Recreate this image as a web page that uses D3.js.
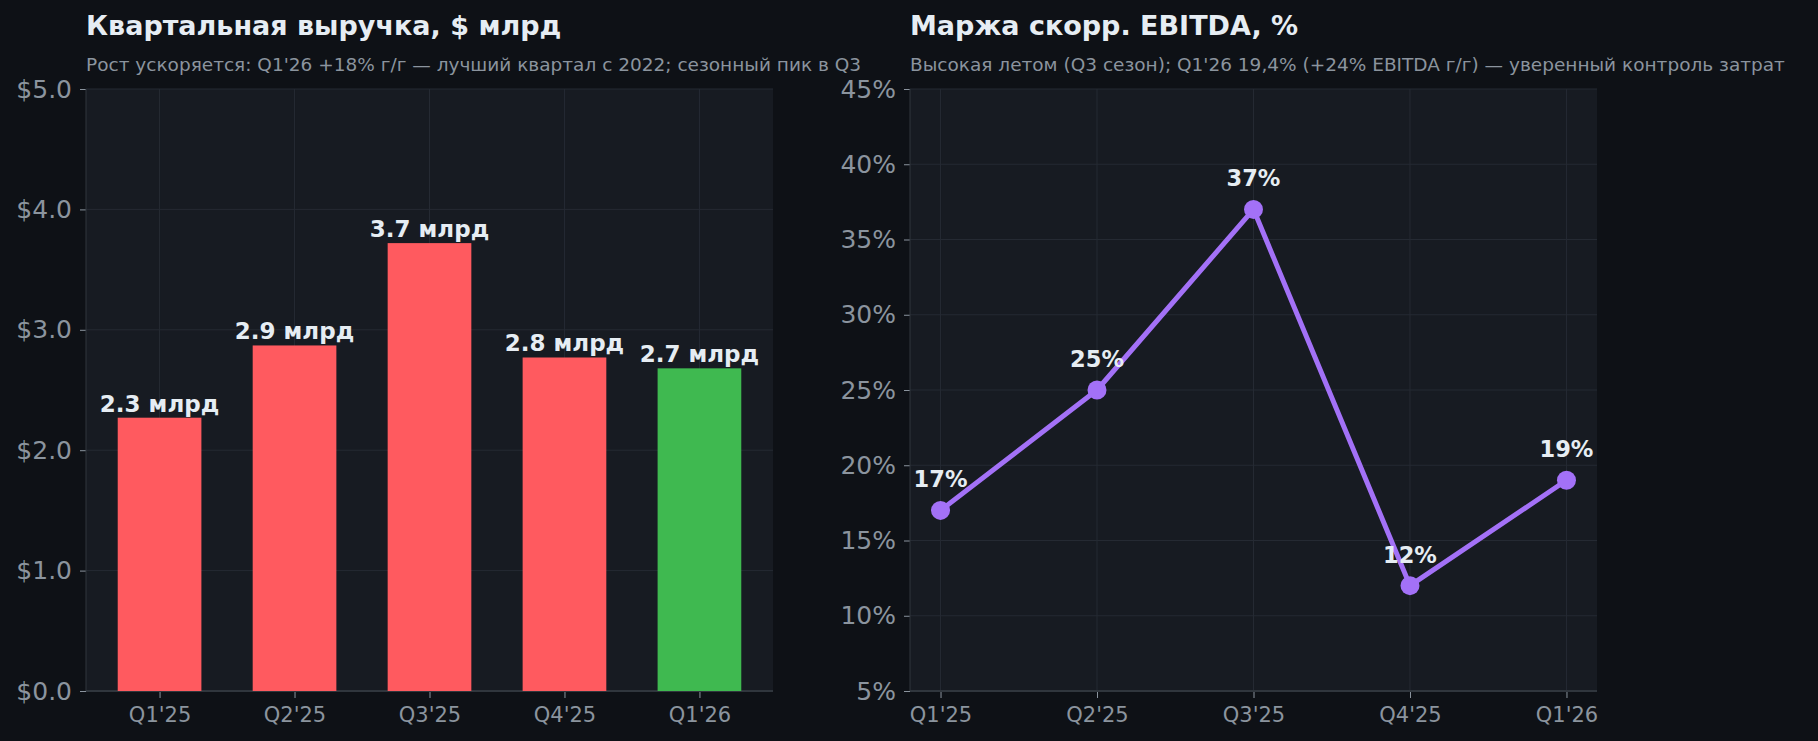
<!DOCTYPE html>
<html>
<head>
<meta charset="utf-8">
<title>Квартальная выручка и маржа EBITDA</title>
<style>
  html, body { margin: 0; padding: 0; background: #0e1116; }
  svg { display: block; font-family: "DejaVu Sans", sans-serif; }
  .domain { display: none; }
</style>
</head>
<body>
<div id="chart"></div>
<script src="https://cdn.jsdelivr.net/npm/d3@7"></script>
<script>
// data
const quarters = ["Q1'25", "Q2'25", "Q3'25", "Q4'25", "Q1'26"];
const revenue = [2.27, 2.87, 3.72, 2.77, 2.68];
const revenueLabels = ["2.3 млрд", "2.9 млрд", "3.7 млрд", "2.8 млрд", "2.7 млрд"];
const margin = [17, 25, 37, 12, 19];
const marginLabels = ["17%", "25%", "37%", "12%", "19%"];
const revenueTicks = [0, 1, 2, 3, 4, 5];
const marginTicks = [5, 10, 15, 20, 25, 30, 35, 40, 45];

const W = 1818, H = 741;
const C = {
  bg: "#0e1116", panel: "#171b22", grid: "#252a33", spine: "#30363d",
  tick: "#8b949e", text: "#e6edf3", red: "#ff5a5f", green: "#3fb950", purple: "#a371f7"
};

const svg = d3.select('#chart').append('svg')
  .attr('width', W).attr('height', H);
svg.append('rect').attr('width', W).attr('height', H).attr('fill', C.bg);

function panel(left, title, subtitle) {
  const top = 89, width = 687, height = 602;
  const g = svg.append('g').attr('transform', `translate(${left}, ${top})`);
  g.append('rect').attr('width', width).attr('height', height).attr('fill', C.panel);
  svg.append('text').attr('x', left).attr('y', 35)
    .attr('fill', C.text).attr('font-size', 27).attr('font-weight', 'bold').text(title);
  svg.append('text').attr('x', left).attr('y', 71)
    .attr('fill', C.tick).attr('font-size', 18.5).text(subtitle);
  return { g, width, height };
}

function axes(p, x, y, ticks, fmt) {
  const { g, width, height } = p;
  // grid
  g.append('g').selectAll('line').data(ticks).join('line')
    .attr('x1', 0).attr('x2', width).attr('y1', d => y(d)).attr('y2', d => y(d))
    .attr('stroke', C.grid).attr('stroke-width', 1);
  g.append('g').selectAll('line').data(quarters).join('line')
    .attr('x1', d => x(d)).attr('x2', d => x(d)).attr('y1', 0).attr('y2', height)
    .attr('stroke', C.grid).attr('stroke-width', 1);

  const ya = g.append('g')
    .call(d3.axisLeft(y).tickValues(ticks).tickFormat(fmt).tickSize(6).tickPadding(8));
  ya.selectAll('text').attr('fill', C.tick).attr('font-size', 25)
    .attr('font-family', '"DejaVu Sans", sans-serif');
  ya.selectAll('.tick line').attr('stroke', C.tick);

  const xa = g.append('g').attr('transform', `translate(0, ${height})`)
    .call(d3.axisBottom(x).tickSize(7).tickPadding(9));
  xa.selectAll('text').attr('fill', C.tick).attr('font-size', 21)
    .attr('font-family', '"DejaVu Sans", sans-serif');
  xa.selectAll('.tick line').attr('stroke', C.tick);

  g.append('line').attr('x1', 0).attr('x2', 0).attr('y1', 0).attr('y2', height)
    .attr('stroke', C.spine).attr('stroke-width', 1);
  g.append('line').attr('x1', 0).attr('x2', width).attr('y1', height).attr('y2', height)
    .attr('stroke', C.spine).attr('stroke-width', 2);
}

// ---- revenue bars
const p1 = panel(86, "Квартальная выручка, $ млрд",
  "Рост ускоряется: Q1'26 +18% г/г — лучший квартал с 2022; сезонный пик в Q3");
const x1 = d3.scalePoint().domain(quarters).range([0, p1.width]).padding(0.545);
const y1 = d3.scaleLinear().domain([0, 5]).range([p1.height, 0]);
axes(p1, x1, y1, revenueTicks, d => '$' + d3.format('.1f')(d));
const bw = x1.step() * 0.62;

p1.g.append('g').selectAll('rect').data(revenue).join('rect')
  .attr('x', (d, i) => x1(quarters[i]) - bw / 2)
  .attr('y', d => y1(d))
  .attr('width', bw)
  .attr('height', d => p1.height - y1(d))
  .attr('fill', (d, i) => i === quarters.length - 1 ? C.green : C.red);

p1.g.append('g').selectAll('text').data(revenue).join('text')
  .attr('x', (d, i) => x1(quarters[i]))
  .attr('y', d => y1(d) - 6)
  .attr('text-anchor', 'middle')
  .attr('fill', C.text).attr('font-size', 23).attr('font-weight', 'bold')
  .text((d, i) => revenueLabels[i]);

// ---- EBITDA margin line
const p2 = panel(910, "Маржа скорр. EBITDA, %",
  "Высокая летом (Q3 сезон); Q1'26 19,4% (+24% EBITDA г/г) — уверенный контроль затрат");
const x2 = d3.scalePoint().domain(quarters).range([0, p2.width]).padding(0.195);
const y2 = d3.scaleLinear().domain([5, 45]).range([p2.height, 0]);
axes(p2, x2, y2, marginTicks, d => d + '%');

const line = d3.line().x((d, i) => x2(quarters[i])).y(d => y2(d));
p2.g.append('path').datum(margin)
  .attr('d', line).attr('fill', 'none')
  .attr('stroke', C.purple).attr('stroke-width', 5).attr('stroke-linejoin', 'round');

p2.g.append('g').selectAll('circle').data(margin).join('circle')
  .attr('cx', (d, i) => x2(quarters[i]))
  .attr('cy', d => y2(d))
  .attr('r', 9.5)
  .attr('fill', C.purple);

p2.g.append('g').selectAll('text').data(margin).join('text')
  .attr('x', (d, i) => x2(quarters[i]))
  .attr('y', d => y2(d) - 23)
  .attr('text-anchor', 'middle')
  .attr('fill', C.text).attr('font-size', 22.5).attr('font-weight', 'bold')
  .text((d, i) => marginLabels[i]);
</script>
</body>
</html>
